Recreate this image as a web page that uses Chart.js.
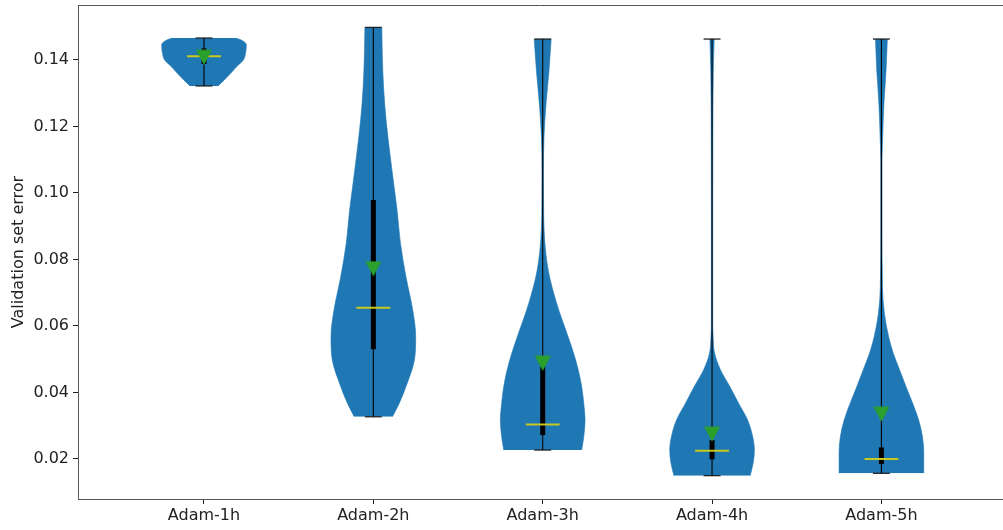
<!DOCTYPE html>
<html><head><meta charset="utf-8">
<script src="https://cdn.jsdelivr.net/npm/chart.js@4.4.1/dist/chart.umd.min.js"></script>
<style>html,body{margin:0;padding:0;background:#fff;overflow:hidden}canvas{display:block}</style>
</head><body>
<canvas id="c" width="1003" height="530"></canvas>
<script>
// ---- data ----
const categories = ['Adam-1h', 'Adam-2h', 'Adam-3h', 'Adam-4h', 'Adam-5h'];
const positions = [1, 2, 3, 4, 5];
const yTicks = [0.02, 0.04, 0.06, 0.08, 0.10, 0.12, 0.14];

// violin outlines: error levels and relative density width (1 = widest)
const levels1h = [0.1322, 0.1340, 0.1360, 0.1380, 0.1400, 0.1420, 0.1445, 0.1460, 0.1466];
const widths1h = [0.33, 0.48, 0.63, 0.77, 0.93, 0.98, 1.00, 0.88, 0.74];
const levels2h = [0.0327, 0.0367, 0.0428, 0.0498, 0.0568, 0.0648, 0.0748, 0.0849, 0.0949, 0.1019, 0.1119, 0.1220, 0.1320, 0.1420, 0.1498];
const widths2h = [0.45, 0.61, 0.80, 0.97, 1.00, 0.93, 0.77, 0.64, 0.56, 0.49, 0.39, 0.30, 0.24, 0.21, 0.20];
const levels3h = [0.0227, 0.0267, 0.0317, 0.0367, 0.0418, 0.0468, 0.0518, 0.0568, 0.0618, 0.0668, 0.0768, 0.0869, 0.0969, 0.1069, 0.1169, 0.1270, 0.1370, 0.1463];
const widths3h = [0.92, 0.97, 1.00, 0.97, 0.92, 0.84, 0.73, 0.60, 0.46, 0.33, 0.13, 0.04, 0.02, 0.018, 0.03, 0.08, 0.15, 0.20];
const levels4h = [0.0150, 0.0187, 0.0227, 0.0267, 0.0317, 0.0367, 0.0418, 0.0468, 0.0518, 0.0568, 0.0618, 0.0919, 0.1220, 0.1370, 0.1463];
const widths4h = [0.90, 0.97, 1.00, 0.96, 0.84, 0.63, 0.42, 0.20, 0.06, 0.025, 0.015, 0.015, 0.02, 0.03, 0.05];
const levels5h = [0.0157, 0.0217, 0.0267, 0.0317, 0.0367, 0.0418, 0.0468, 0.0518, 0.0568, 0.0638, 0.0718, 0.0900, 0.1100, 0.1169, 0.1270, 0.1370, 0.1463];
const widths5h = [1.00, 1.00, 0.97, 0.88, 0.74, 0.58, 0.43, 0.28, 0.17, 0.07, 0.025, 0.015, 0.015, 0.03, 0.06, 0.11, 0.14];

// summary statistics
const mins    = [0.1322, 0.0327, 0.0227, 0.0150, 0.0157];
const maxs    = [0.1466, 0.1498, 0.1463, 0.1463, 0.1463];
const q1s     = [0.1388, 0.0530, 0.0272, 0.0199, 0.0185];
const q3s     = [0.1435, 0.0979, 0.0478, 0.0257, 0.0235];
const medians = [0.1411, 0.0655, 0.0304, 0.0225, 0.0200];
const means   = [0.1408, 0.0772, 0.0488, 0.0275, 0.0335];

// ---- styling ----
const violinColor = '#1f77b4';
const spineColor = '#555555';
const textColor = '#222222';
const halfWidth = 0.25;   // violin max half width in x units
const capHalf = 0.05;
const medHalf = 0.10;
const xMin = 0.256, xMax = 5.718;
const yMin = 0.00797, yMax = 0.15654;
const font = {family: 'DejaVu Sans', size: 16};

const violinLevels = [levels1h, levels2h, levels3h, levels4h, levels5h];
const violinWidths = [widths1h, widths2h, widths3h, widths4h, widths5h];

function triangleImage() {
  const c = document.createElement('canvas');
  c.width = 16; c.height = 16;
  const g = c.getContext('2d');
  g.fillStyle = '#2ca02c';
  g.beginPath();
  g.moveTo(0, 0.5); g.lineTo(16, 0.5); g.lineTo(8, 15.8);
  g.closePath(); g.fill();
  return c;
}

const datasets = [];
// violins (two halves filled towards the centre line)
violinLevels.forEach((lv, i) => {
  const pos = positions[i];
  [1, -1].forEach(side => {
    datasets.push({
      data: lv.map((v, k) => ({x: pos + side * halfWidth * violinWidths[i][k], y: v})),
      borderColor: violinColor, borderWidth: 0.6, backgroundColor: violinColor,
      fill: {value: pos}, pointRadius: 0, cubicInterpolationMode: 'monotone', order: 6
    });
  });
});
// min-max bars and caps
positions.forEach((pos, i) => {
  datasets.push({data: [{x: pos, y: mins[i]}, {x: pos, y: maxs[i]}], borderColor: '#000', borderWidth: 1.1, pointRadius: 0, fill: false, order: 4});
  datasets.push({data: [{x: pos - capHalf, y: mins[i]}, {x: pos + capHalf, y: mins[i]}], borderColor: '#222', borderWidth: 1.3, pointRadius: 0, fill: false, order: 4});
  datasets.push({data: [{x: pos - capHalf, y: maxs[i]}, {x: pos + capHalf, y: maxs[i]}], borderColor: '#222', borderWidth: 1.3, pointRadius: 0, fill: false, order: 4});
  // interquartile bar
  datasets.push({data: [{x: pos, y: q1s[i]}, {x: pos, y: q3s[i]}], borderColor: '#000', borderWidth: 5, borderCapStyle: 'butt', pointRadius: 0, fill: false, order: 3});
  // median
  datasets.push({data: [{x: pos - medHalf, y: medians[i]}, {x: pos + medHalf, y: medians[i]}], borderColor: '#c8c81e', borderWidth: 2, pointRadius: 0, fill: false, order: 2});
});
// means
const tri = triangleImage();
datasets.push({
  data: positions.map((pos, i) => ({x: pos, y: means[i]})),
  showLine: false, pointStyle: tri, pointRadius: 8, borderWidth: 0, order: 1
});

const topSpine = {
  id: 'topSpine',
  afterDraw(chart) {
    const {ctx, chartArea: a} = chart;
    ctx.save();
    ctx.strokeStyle = spineColor; ctx.lineWidth = 1;
    ctx.beginPath();
    ctx.moveTo(a.left, Math.round(a.top) + 0.5);
    ctx.lineTo(a.right, Math.round(a.top) + 0.5);
    ctx.stroke();
    ctx.restore();
  }
};

new Chart(document.getElementById('c'), {
  type: 'line',
  data: {datasets},
  plugins: [topSpine],
  options: {
    indexAxis: 'y',
    responsive: false,
    devicePixelRatio: 1,
    animation: false,
    events: [],
    layout: {autoPadding: false, padding: {top: 5, right: 0, left: 0, bottom: 0}},
    plugins: {legend: {display: false}, tooltip: {enabled: false}},
    scales: {
      x: {
        type: 'linear', position: 'bottom', min: xMin, max: xMax,
        afterBuildTicks: s => { s.ticks = positions.map(v => ({value: v})); },
        afterFit: s => { s.height = 31; s.paddingLeft = 0; s.paddingRight = 0; s.paddingTop = 0; s.paddingBottom = 0; },
        grid: {display: true, drawOnChartArea: false, drawTicks: true, tickLength: 5, tickColor: '#222', tickWidth: 1},
        border: {display: true, color: spineColor, width: 1},
        ticks: {autoSkip: false, maxRotation: 0, padding: 2, font, color: textColor,
          callback: v => categories[positions.indexOf(v)]}
      },
      y: {
        type: 'linear', position: 'left', min: yMin, max: yMax,
        afterBuildTicks: s => { s.ticks = yTicks.map(v => ({value: v})); },
        afterFit: s => { s.width = 78; s.paddingLeft = 0; s.paddingRight = 0; s.paddingTop = 0; s.paddingBottom = 0; },
        grid: {display: true, drawOnChartArea: false, drawTicks: true, tickLength: 5, tickColor: '#222', tickWidth: 1},
        border: {display: true, color: spineColor, width: 1},
        ticks: {autoSkip: false, padding: 4, font, color: textColor, callback: v => v.toFixed(2)},
        title: {display: true, text: 'Validation set error', font, color: textColor, padding: {top: 9, bottom: 0}}
      }
    }
  }
});
</script>
</body></html>
